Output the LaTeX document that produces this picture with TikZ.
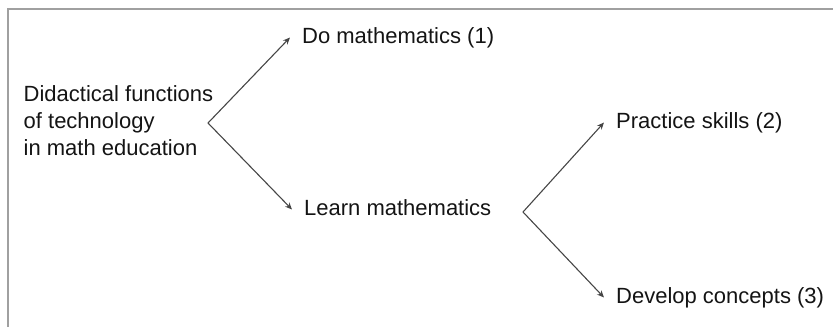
\documentclass[tikz,border=0pt]{standalone}
\usepackage{fontspec}
\setmainfont{Liberation Sans}
\usetikzlibrary{arrows.meta}
\definecolor{framegray}{RGB}{160,160,160}
\definecolor{linegray}{RGB}{70,70,70}
\definecolor{textgray}{RGB}{20,20,20}
\begin{document}
\begin{tikzpicture}[x=1pt,y=-1pt,
  label/.style={inner xsep=12pt,inner ysep=0pt,text height=16pt,text depth=5pt,
    font=\fontsize{22}{27}\selectfont,text=textgray,anchor=base west},
  conn/.style={draw=linegray,line width=1.1pt,-{Stealth[length=7pt,width=6pt]}},
  frameline/.style={draw=framegray,line width=1.6pt}]
\useasboundingbox (0,0) rectangle (833,327);
\draw[frameline] (8,327) -- (8,9) -- (833,9);
\node[inner sep=0pt,align=left,anchor=north west,font=\fontsize{22}{27}\selectfont,text=textgray]
  (root) at (23.5,85) {Didactical functions\\of technology\\in math education};
\coordinate (v1) at (208,123);
\coordinate (v2) at (523,212);
\node[label] (do) at (290,43) {Do mathematics (1)};
\node[label] (learn) at (292,215) {Learn mathematics};
\node[label] (practice) at (604,128) {Practice skills (2)};
\node[label] (develop) at (604,303) {Develop concepts (3)};
\draw[conn] (v1) -- (do.west);
\draw[conn] (v1) -- (learn.west);
\draw[conn] (v2) -- (practice.west);
\draw[conn] (v2) -- (develop.west);
\end{tikzpicture}
\end{document}
